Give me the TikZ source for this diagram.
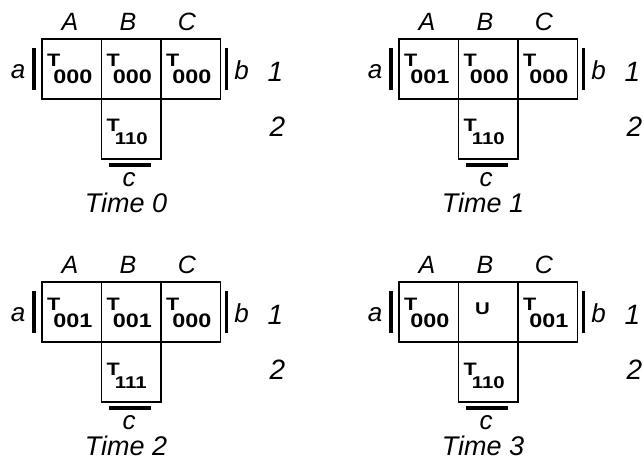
\documentclass[tikz,border=0pt]{standalone}
\usepackage{fontspec}
\setmainfont{Liberation Sans}
\newfontfamily\hand{Liberation Sans}
\newfontfamily\cellf[FakeStretch=1.2]{Liberation Sans}
\tikzset{
 cellbox/.style={draw, line width=1.1pt, minimum width=59.5pt, minimum height=60pt, inner sep=0pt, outer sep=0pt},
 bar/.style={line width=3.4pt},
 tl/.style={inner sep=0pt, anchor=base west, font=\cellf\bfseries\fontsize{18}{18}\selectfont},
 ul/.style={inner sep=0pt, anchor=base, font=\cellf\bfseries\fontsize{17}{17}\selectfont},
 col/.style={inner sep=0pt, font=\hand\itshape\fontsize{25}{25}\selectfont},
 low/.style={inner sep=0pt, font=\hand\itshape\fontsize{26}{26}\selectfont},
 rowl/.style={inner sep=0pt, font=\hand\itshape\fontsize{28}{28}\selectfont},
 timel/.style={inner sep=0pt, font=\hand\itshape\fontsize{27}{27}\selectfont},
}
% T cell content (top row)
\newcommand\cT[2]{%
 \node[tl] (#1T) at ([shift={(5,28)}]#1.north west)
   {T\hspace{-7pt}\raisebox{-17pt}{\fontsize{19.5}{19.5}\selectfont #2}};}
% T cell content (lower cell)
\newcommand\cTl[2]{%
 \node[tl] (#1T) at ([shift={(5,33)}]#1.north west)
   {T\hspace{-5pt}\raisebox{-13pt}{\fontsize{17}{17}\selectfont #2}};}
\newcommand\cU[1]{%
 \node[ul] (#1U) at ([shift={(24,32)}]#1.north west) {U};}
% panel: #1 L, #2 T, #3 prefix, #4..#7 contents, #8 time text
\newcommand\panel[8]{%
 \begin{scope}[shift={(#1,#2)}]
  \node[cellbox, anchor=north west] (#3A) at (0,0) {};
  \node[cellbox, anchor=north west] (#3B) at (59.5,0) {};
  \node[cellbox, anchor=north west] (#3C) at (119,0) {};
  \node[cellbox, anchor=north west] (#3D) at (59.5,60) {};
  #4 #5 #6 #7
  \node[col] (#3lA) at (28,-17) {A};
  \node[col] (#3lB) at (86,-17) {B};
  \node[col] (#3lC) at (145,-17) {C};
  \node[low] (#3la) at (-24,33) {a};
  \node[low] (#3lb) at (199.5,31) {b};
  \node[low] (#3lc) at (87,141) {c};
  \node[rowl] (#3r1) at (233.5,33) {1};
  \node[rowl] (#3r2) at (235.5,88) {2};
  \node[timel] (#3time) at (84,164) {#8};
  \draw[bar] ([shift={(-8,-21)}]#3A.west) -- ([shift={(-8,21)}]#3A.west);
  \draw[bar] ([shift={(6,-21)}]#3C.east) -- ([shift={(6,21)}]#3C.east);
  \draw[bar] ([shift={(7,6)}]#3D.south west) -- ([shift={(-10,6)}]#3D.south east);
 \end{scope}}
\begin{document}
\begin{tikzpicture}[x=1pt,y=-1pt]
 \useasboundingbox (0,0) rectangle (644,462);
 \panel{42}{39}{p}{\cT{pA}{000}}{\cT{pB}{000}}{\cT{pC}{000}}{\cTl{pD}{110}}{Time 0}
 \panel{399}{39}{q}{\cT{qA}{001}}{\cT{qB}{000}}{\cT{qC}{000}}{\cTl{qD}{110}}{Time 1}
 \panel{42}{282}{r}{\cT{rA}{001}}{\cT{rB}{001}}{\cT{rC}{000}}{\cTl{rD}{111}}{Time 2}
 \panel{399}{282}{s}{\cT{sA}{000}}{\cU{sB}}{\cT{sC}{001}}{\cTl{sD}{110}}{Time 3}
\end{tikzpicture}
\end{document}
